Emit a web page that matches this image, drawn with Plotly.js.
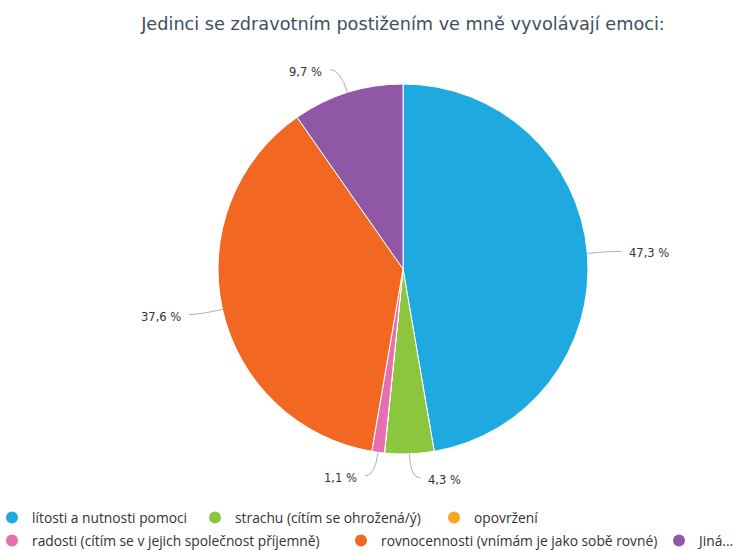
<!DOCTYPE html>
<html>
<head>
<meta charset="utf-8">
<script src="https://cdn.plot.ly/plotly-3.0.1.min.js"></script>
<style>html,body{margin:0;padding:0;background:#fff;}#chart{width:736px;height:550px;}</style>
</head>
<body>
<div id="chart"></div>
<script>
const chartTitle = "Jedinci se zdravotním postižením ve mně vyvolávají emoci:";
const labels = [
  "lítosti a nutnosti pomoci",
  "strachu (cítím se ohrožená/ý)",
  "opovržení",
  "radosti (cítím se v jejich společnost příjemně)",
  "rovnocennosti (vnímám je jako sobě rovné)",
  "Jiná..."
];
const values = [47.3, 4.3, 0, 1.1, 37.6, 9.7];
const colors = ["#1ea9e0", "#8cc63e", "#f7a51d", "#e56fb0", "#f26722", "#8f57a5"];
// legend row assignment (two rows, as in the reference)
const legendRow = ["legend", "legend", "legend", "legend2", "legend2", "legend3"];
const legendEntryWidth = [158, 194, null, 304, null, null];

const W = 736, H = 550, MB = 60;
const PH = H - MB;
const cx = 403, cy = 269, R = 185;

const pie = {
  type: "pie",
  values: values,
  labels: labels,
  sort: false,
  direction: "clockwise",
  rotation: 0,
  textinfo: "none",
  hoverinfo: "label+percent",
  showlegend: false,
  marker: {colors: colors, line: {color: "#ffffff", width: 1}},
  domain: {x: [(cx - R) / W, (cx + R) / W], y: [1 - (cy + R) / PH, 1 - (cy - R) / PH]}
};

const legendTraces = labels.map((l, i) => {
  const t = {
    type: "scatter", mode: "markers", x: [null], y: [null], name: l,
    legend: legendRow[i],
    marker: {color: colors[i], size: 11, symbol: "circle"},
    hoverinfo: "skip", showlegend: true
  };
  if (legendEntryWidth[i]) t.legendwidth = legendEntryWidth[i];
  return t;
});

const px = x => x / W;
const py = y => 1 - y / PH;

const total = values.reduce((a, b) => a + b, 0);
const annotations = [];
const shapes = [];
let cum = 0;
values.forEach((v, i) => {
  const mid = (cum + v / 2) / total * 2 * Math.PI;
  cum += v;
  if (v <= 0) return;
  const dx = Math.sin(mid), dy = -Math.cos(mid);
  const p0x = cx + R * dx, p0y = cy + R * dy;
  const ex = cx + (R + 24) * dx, ey = cy + (R + 24) * dy;
  const side = dx >= 0 ? 1 : -1;
  const endx = ex + side * 10, endy = ey;
  shapes.push({
    type: "path", xref: "paper", yref: "paper",
    path: `M ${px(p0x)} ${py(p0y)} Q ${px(ex)} ${py(ey)} ${px(endx)} ${py(endy)}`,
    line: {color: "#b0b0b0", width: 1}
  });
  annotations.push({
    xref: "paper", yref: "paper", x: px(endx + side * 6), y: py(endy + 2),
    xanchor: side > 0 ? "left" : "right", yanchor: "middle",
    text: v.toFixed(1).replace(".", ",") + " %", showarrow: false,
    font: {family: "DejaVu Sans", size: 11.5, color: "#333333"}
  });
});

const legendFont = {family: "Open Sans", size: 13.8, color: "#333333"};
const legendBase = {orientation: "h", xanchor: "left", yanchor: "top", font: legendFont,
                    itemsizing: "constant", traceorder: "normal", bgcolor: "rgba(0,0,0,0)"};
const layout = {
  width: W, height: H,
  margin: {l: 0, r: 0, t: 0, b: MB, autoexpand: false},
  paper_bgcolor: "#ffffff", plot_bgcolor: "#ffffff",
  font: {family: "DejaVu Sans", color: "#333333"},
  title: {text: chartTitle, x: cx / W, xanchor: "center", y: 1 - 24 / H, yanchor: "middle", yref: "container",
          font: {family: "DejaVu Sans", size: 17.7, color: "#3e4e63"}},
  xaxis: {visible: false}, yaxis: {visible: false},
  showlegend: true,
  legend: Object.assign({}, legendBase, {x: -8 / W, y: -(502 - PH) / PH}),
  legend2: Object.assign({}, legendBase, {x: -8 / W, y: -(525 - PH) / PH}),
  legend3: Object.assign({}, legendBase, {x: 659 / W, y: -(525 - PH) / PH}),
  annotations: annotations,
  shapes: shapes
};

Plotly.newPlot("chart", [pie].concat(legendTraces), layout, {displayModeBar: false, staticPlot: true});
</script>
</body>
</html>
